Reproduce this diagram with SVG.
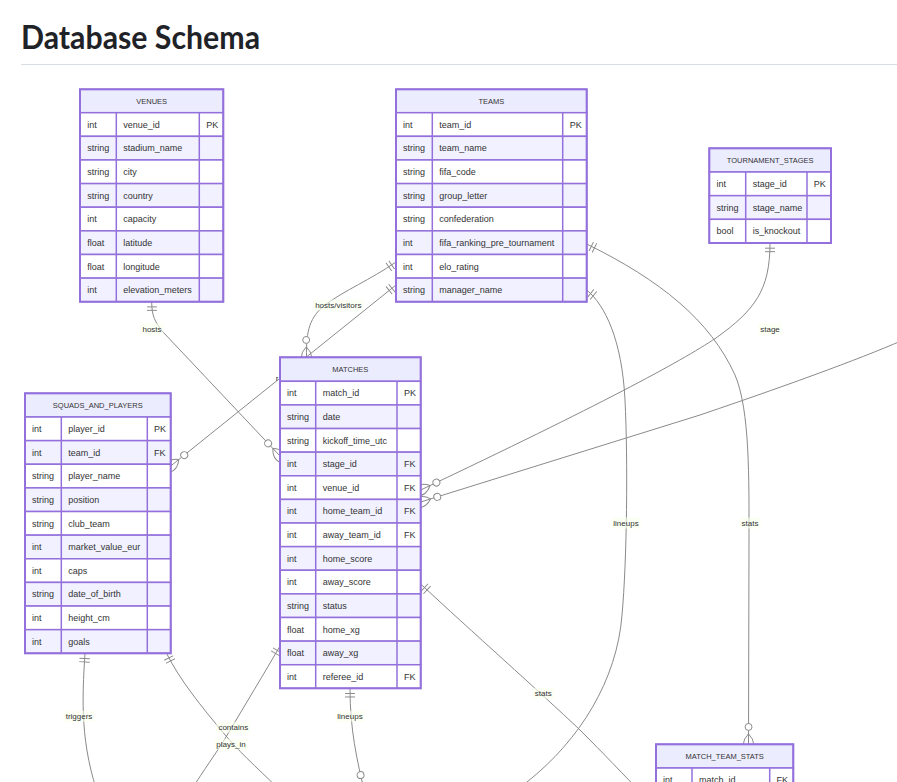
<svg xmlns="http://www.w3.org/2000/svg" width="897" height="782" viewBox="0 0 897 782">
<style>
.title{font-family:Lato,"Liberation Sans",sans-serif;font-weight:700;font-size:32px;fill:#1f2328}
.e{fill:none;stroke:#8a8a8a;stroke-width:1}
.h{fill:#ECECFF;stroke:#9370DB;stroke-width:1.5}
.r0{fill:#FFFFFF;stroke:#9370DB;stroke-width:1.5}
.r1{fill:#F1F1FF;stroke:#9370DB;stroke-width:1.5}
.sep{stroke:#9370DB;stroke-width:1.5}
.ob{fill:none;stroke:#9370DB;stroke-width:2}
.t{font-family:"Liberation Sans",Arial,sans-serif;font-size:9px;fill:#333}
.hd{font-family:"Liberation Sans",Arial,sans-serif;font-size:7.5px;fill:#333;text-anchor:middle}
.lb{fill:#F9FFEC;opacity:0.6}
.lt{font-family:"Liberation Sans",Arial,sans-serif;font-size:8px;fill:#333;text-anchor:middle}
</style>
<defs>
<marker id="oneStart" markerUnits="userSpaceOnUse" viewBox="0 0 18 18" refX="0" refY="9" markerWidth="10.4" markerHeight="10.4" orient="auto">
<path d="M9,0 L9,18 M15,0 L15,18" stroke="#8a8a8a" stroke-width="1.7" fill="none"/>
</marker>
<marker id="zeroMany" markerUnits="userSpaceOnUse" viewBox="0 0 57 36" refX="39" refY="18" markerWidth="33" markerHeight="20.9" orient="auto">
<circle cx="9" cy="18" r="6" fill="#fff" stroke="#8a8a8a" stroke-width="1.7"/>
<path d="M21,18 Q39,0 57,18 Q39,36 21,18" fill="none" stroke="#8a8a8a" stroke-width="1.7"/>
</marker>
</defs>
<rect x="0" y="0" width="897" height="782" fill="#fff"/>
<text class="title" x="21" y="49" textLength="239" lengthAdjust="spacingAndGlyphs">Database Schema</text>
<line x1="21" y1="64.5" x2="897" y2="64.5" stroke="#d8dee4" stroke-width="1"/>

<g id="connectors">
<path id="e-hosts" class="e" d="M151.7,301.7 C151.7,316 155,322 163,332 L280,456" marker-start="url(#oneStart)" marker-end="url(#zeroMany)"/>
<path id="e-roster" class="e" d="M396,285 L170.7,466" marker-start="url(#oneStart)" marker-end="url(#zeroMany)"/>
<path id="e-hostsvisitors" class="e" d="M396,262 C370,280 345,290 325,305 C310,317 306,330 306.5,357.3" marker-start="url(#oneStart)" marker-end="url(#zeroMany)"/>
<path id="e-teamstats" class="e" d="M586.7,244 C660,280 710,320 735,375 C750,410 749,480 749,540 L748.5,744.3" marker-start="url(#oneStart)" marker-end="url(#zeroMany)"/>
<path id="e-teamlineups" class="e" d="M586.7,290 C605,305 622,340 625,400 C628,460 627,560 622,615 C617,680 580,740 527,782 L510,796" marker-start="url(#oneStart)"/>
<path id="e-stage" class="e" d="M770,243 C770,290 755,310 716,338 C680,362 600,405 420.7,490" marker-start="url(#oneStart)" marker-end="url(#zeroMany)"/>
<path id="e-right" class="e" d="M910,337 C870,355 800,381 700,415 L420.7,502" marker-end="url(#zeroMany)"/>
<path id="e-matchstats" class="e" d="M420.7,584 C470,630 540,692 580,730 C605,755 620,771 650,802" marker-start="url(#oneStart)"/>
<path id="e-matchlineups" class="e" d="M350,688.3 C350,730 357,760 364.5,792" marker-start="url(#oneStart)" marker-end="url(#zeroMany)"/>
<path id="e-triggers" class="e" d="M85,653.3 C82,700 80,745 100,800" marker-start="url(#oneStart)"/>
<path id="e-playsin" class="e" d="M166.5,653.3 C180,680 200,705 226,736 C245,758 262,772 290,800" marker-start="url(#oneStart)"/>
<path id="e-contains" class="e" d="M280,646 C265,672 245,705 226,737 C215,755 205,768 190,792" marker-start="url(#oneStart)"/>
</g>

<g id="labels">
<rect class="lb" x="140.5" y="323.5" width="23" height="11"/><text class="lt" x="152" y="332">hosts</text>
<rect class="lb" x="313.3" y="299.5" width="50" height="11"/><text class="lt" x="338.3" y="308">hosts/visitors</text>
<rect class="lb" x="758" y="323.5" width="24" height="11"/><text class="lt" x="770" y="332">stage</text>
<rect class="lb" x="611.5" y="517.5" width="29" height="11"/><text class="lt" x="626" y="526">lineups</text>
<rect class="lb" x="739.5" y="517.5" width="21" height="11"/><text class="lt" x="750" y="526">stats</text>
<rect class="lb" x="532.8" y="687.8" width="21" height="11"/><text class="lt" x="543.3" y="696.2">stats</text>
<rect class="lb" x="335.5" y="710.8" width="29" height="11"/><text class="lt" x="350" y="719.2">lineups</text>
<rect class="lb" x="63.5" y="710.8" width="31" height="11"/><text class="lt" x="79" y="719.2">triggers</text>
<rect class="lb" x="216.3" y="721.8" width="34" height="11"/><text class="lt" x="233.3" y="730.2">contains</text>
<rect class="lb" x="214.5" y="738.8" width="33" height="11"/><text class="lt" x="231" y="747.2">plays_in</text>
<text class="lt" x="277" y="381">r</text>
</g>

<g id="venues">
<rect class="h" x="80" y="89.3" width="143.3" height="23.4"/>
<text class="hd" x="151.7" y="103.7">VENUES</text>
<rect class="r0" x="80" y="112.7" width="143.3" height="23.63"/>
<rect class="r1" x="80" y="136.33" width="143.3" height="23.63"/>
<rect class="r0" x="80" y="159.96" width="143.3" height="23.63"/>
<rect class="r1" x="80" y="183.59" width="143.3" height="23.63"/>
<rect class="r0" x="80" y="207.22" width="143.3" height="23.63"/>
<rect class="r1" x="80" y="230.85" width="143.3" height="23.63"/>
<rect class="r0" x="80" y="254.48" width="143.3" height="23.63"/>
<rect class="r1" x="80" y="278.11" width="143.3" height="23.63"/>
<line class="sep" x1="116.3" y1="112.7" x2="116.3" y2="301.7"/>
<line class="sep" x1="199.3" y1="112.7" x2="199.3" y2="301.7"/>
<rect class="ob" x="80" y="89.3" width="143.3" height="212.4"/>
<text class="t" x="87.3" y="127.7">int</text><text class="t" x="123.3" y="127.7">venue_id</text><text class="t" x="206.3" y="127.7">PK</text>
<text class="t" x="87.3" y="151.3">string</text><text class="t" x="123.3" y="151.3">stadium_name</text>
<text class="t" x="87.3" y="175">string</text><text class="t" x="123.3" y="175">city</text>
<text class="t" x="87.3" y="198.6">string</text><text class="t" x="123.3" y="198.6">country</text>
<text class="t" x="87.3" y="222.2">int</text><text class="t" x="123.3" y="222.2">capacity</text>
<text class="t" x="87.3" y="245.9">float</text><text class="t" x="123.3" y="245.9">latitude</text>
<text class="t" x="87.3" y="269.5">float</text><text class="t" x="123.3" y="269.5">longitude</text>
<text class="t" x="87.3" y="293.1">int</text><text class="t" x="123.3" y="293.1">elevation_meters</text>
</g>

<g id="teams">
<rect class="h" x="396" y="89.3" width="190.7" height="23.4"/>
<text class="hd" x="491.3" y="103.7">TEAMS</text>
<rect class="r0" x="396" y="112.7" width="190.7" height="23.63"/>
<rect class="r1" x="396" y="136.33" width="190.7" height="23.63"/>
<rect class="r0" x="396" y="159.96" width="190.7" height="23.63"/>
<rect class="r1" x="396" y="183.59" width="190.7" height="23.63"/>
<rect class="r0" x="396" y="207.22" width="190.7" height="23.63"/>
<rect class="r1" x="396" y="230.85" width="190.7" height="23.63"/>
<rect class="r0" x="396" y="254.48" width="190.7" height="23.63"/>
<rect class="r1" x="396" y="278.11" width="190.7" height="23.63"/>
<line class="sep" x1="432.3" y1="112.7" x2="432.3" y2="301.7"/>
<line class="sep" x1="562.7" y1="112.7" x2="562.7" y2="301.7"/>
<rect class="ob" x="396" y="89.3" width="190.7" height="212.4"/>
<text class="t" x="403" y="127.7">int</text><text class="t" x="439.3" y="127.7">team_id</text><text class="t" x="569.7" y="127.7">PK</text>
<text class="t" x="403" y="151.3">string</text><text class="t" x="439.3" y="151.3">team_name</text>
<text class="t" x="403" y="175">string</text><text class="t" x="439.3" y="175">fifa_code</text>
<text class="t" x="403" y="198.6">string</text><text class="t" x="439.3" y="198.6">group_letter</text>
<text class="t" x="403" y="222.2">string</text><text class="t" x="439.3" y="222.2">confederation</text>
<text class="t" x="403" y="245.9">int</text><text class="t" x="439.3" y="245.9">fifa_ranking_pre_tournament</text>
<text class="t" x="403" y="269.5">int</text><text class="t" x="439.3" y="269.5">elo_rating</text>
<text class="t" x="403" y="293.1">string</text><text class="t" x="439.3" y="293.1">manager_name</text>
</g>

<g id="tournament_stages">
<rect class="h" x="709.3" y="148.3" width="121.7" height="23.7"/>
<text class="hd" x="770.2" y="162.8">TOURNAMENT_STAGES</text>
<rect class="r0" x="709.3" y="172" width="121.7" height="23.67"/>
<rect class="r1" x="709.3" y="195.67" width="121.7" height="23.67"/>
<rect class="r0" x="709.3" y="219.33" width="121.7" height="23.67"/>
<line class="sep" x1="745.7" y1="172" x2="745.7" y2="243"/>
<line class="sep" x1="807" y1="172" x2="807" y2="243"/>
<rect class="ob" x="709.3" y="148.3" width="121.7" height="94.7"/>
<text class="t" x="716.5" y="187">int</text><text class="t" x="752.7" y="187">stage_id</text><text class="t" x="813.8" y="187">PK</text>
<text class="t" x="716.5" y="210.6">string</text><text class="t" x="752.7" y="210.6">stage_name</text>
<text class="t" x="716.5" y="234.3">bool</text><text class="t" x="752.7" y="234.3">is_knockout</text>
</g>

<g id="matches">
<rect class="h" x="280" y="357.3" width="140.7" height="24"/>
<text class="hd" x="350.3" y="372">MATCHES</text>
<rect class="r0" x="280" y="381.3" width="140.7" height="23.62"/>
<rect class="r1" x="280" y="404.92" width="140.7" height="23.62"/>
<rect class="r0" x="280" y="428.54" width="140.7" height="23.62"/>
<rect class="r1" x="280" y="452.16" width="140.7" height="23.62"/>
<rect class="r0" x="280" y="475.78" width="140.7" height="23.62"/>
<rect class="r1" x="280" y="499.4" width="140.7" height="23.62"/>
<rect class="r0" x="280" y="523.02" width="140.7" height="23.62"/>
<rect class="r1" x="280" y="546.64" width="140.7" height="23.62"/>
<rect class="r0" x="280" y="570.26" width="140.7" height="23.62"/>
<rect class="r1" x="280" y="593.88" width="140.7" height="23.62"/>
<rect class="r0" x="280" y="617.5" width="140.7" height="23.62"/>
<rect class="r1" x="280" y="641.12" width="140.7" height="23.62"/>
<rect class="r0" x="280" y="664.74" width="140.7" height="23.56"/>
<line class="sep" x1="315.7" y1="381.3" x2="315.7" y2="688.3"/>
<line class="sep" x1="397" y1="381.3" x2="397" y2="688.3"/>
<rect class="ob" x="280" y="357.3" width="140.7" height="331"/>
<text class="t" x="287" y="396.3">int</text><text class="t" x="322.7" y="396.3">match_id</text><text class="t" x="404" y="396.3">PK</text>
<text class="t" x="287" y="419.9">string</text><text class="t" x="322.7" y="419.9">date</text>
<text class="t" x="287" y="443.5">string</text><text class="t" x="322.7" y="443.5">kickoff_time_utc</text>
<text class="t" x="287" y="467.2">int</text><text class="t" x="322.7" y="467.2">stage_id</text><text class="t" x="404" y="467.2">FK</text>
<text class="t" x="287" y="490.8">int</text><text class="t" x="322.7" y="490.8">venue_id</text><text class="t" x="404" y="490.8">FK</text>
<text class="t" x="287" y="514.4">int</text><text class="t" x="322.7" y="514.4">home_team_id</text><text class="t" x="404" y="514.4">FK</text>
<text class="t" x="287" y="538">int</text><text class="t" x="322.7" y="538">away_team_id</text><text class="t" x="404" y="538">FK</text>
<text class="t" x="287" y="561.6">int</text><text class="t" x="322.7" y="561.6">home_score</text>
<text class="t" x="287" y="585.3">int</text><text class="t" x="322.7" y="585.3">away_score</text>
<text class="t" x="287" y="608.9">string</text><text class="t" x="322.7" y="608.9">status</text>
<text class="t" x="287" y="632.5">float</text><text class="t" x="322.7" y="632.5">home_xg</text>
<text class="t" x="287" y="656.1">float</text><text class="t" x="322.7" y="656.1">away_xg</text>
<text class="t" x="287" y="679.7">int</text><text class="t" x="322.7" y="679.7">referee_id</text><text class="t" x="404" y="679.7">FK</text>
</g>

<g id="squads_and_players">
<rect class="h" x="25" y="393.3" width="145.7" height="23.7"/>
<text class="hd" x="97.8" y="407.9">SQUADS_AND_PLAYERS</text>
<rect class="r0" x="25" y="417" width="145.7" height="23.63"/>
<rect class="r1" x="25" y="440.63" width="145.7" height="23.63"/>
<rect class="r0" x="25" y="464.26" width="145.7" height="23.63"/>
<rect class="r1" x="25" y="487.89" width="145.7" height="23.63"/>
<rect class="r0" x="25" y="511.52" width="145.7" height="23.63"/>
<rect class="r1" x="25" y="535.15" width="145.7" height="23.63"/>
<rect class="r0" x="25" y="558.78" width="145.7" height="23.63"/>
<rect class="r1" x="25" y="582.41" width="145.7" height="23.63"/>
<rect class="r0" x="25" y="606.04" width="145.7" height="23.63"/>
<rect class="r1" x="25" y="629.67" width="145.7" height="23.63"/>
<line class="sep" x1="61.3" y1="417" x2="61.3" y2="653.3"/>
<line class="sep" x1="147.3" y1="417" x2="147.3" y2="653.3"/>
<rect class="ob" x="25" y="393.3" width="145.7" height="260"/>
<text class="t" x="32" y="432">int</text><text class="t" x="68.3" y="432">player_id</text><text class="t" x="154" y="432">PK</text>
<text class="t" x="32" y="455.6">int</text><text class="t" x="68.3" y="455.6">team_id</text><text class="t" x="154" y="455.6">FK</text>
<text class="t" x="32" y="479.3">string</text><text class="t" x="68.3" y="479.3">player_name</text>
<text class="t" x="32" y="502.9">string</text><text class="t" x="68.3" y="502.9">position</text>
<text class="t" x="32" y="526.5">string</text><text class="t" x="68.3" y="526.5">club_team</text>
<text class="t" x="32" y="550.2">int</text><text class="t" x="68.3" y="550.2">market_value_eur</text>
<text class="t" x="32" y="573.8">int</text><text class="t" x="68.3" y="573.8">caps</text>
<text class="t" x="32" y="597.4">string</text><text class="t" x="68.3" y="597.4">date_of_birth</text>
<text class="t" x="32" y="621">int</text><text class="t" x="68.3" y="621">height_cm</text>
<text class="t" x="32" y="644.7">int</text><text class="t" x="68.3" y="644.7">goals</text>
</g>

<g id="match_team_stats">
<rect class="h" x="656" y="744.3" width="137.3" height="23.7"/>
<text class="hd" x="724.7" y="758.9">MATCH_TEAM_STATS</text>
<rect class="r0" x="656" y="768" width="137.3" height="23.63"/>
<rect class="r1" x="656" y="791.63" width="137.3" height="23.63"/>
<line class="sep" x1="692" y1="768" x2="692" y2="815.3"/>
<line class="sep" x1="769.7" y1="768" x2="769.7" y2="815.3"/>
<rect class="ob" x="656" y="744.3" width="137.3" height="71"/>
<text class="t" x="663" y="783">int</text><text class="t" x="699" y="783">match_id</text><text class="t" x="776.5" y="783">FK</text>
</g>
</svg>
